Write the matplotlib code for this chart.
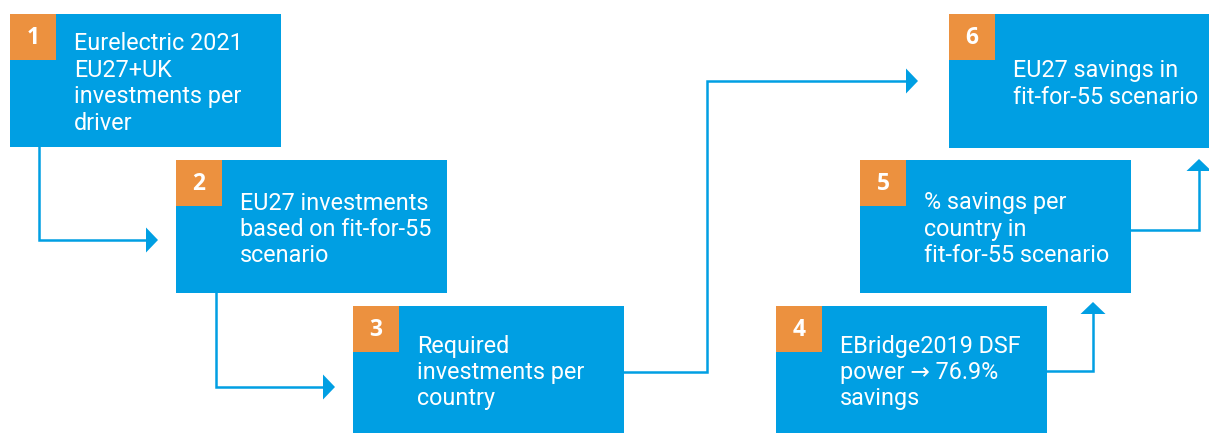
import matplotlib.pyplot as plt
from matplotlib.patches import Rectangle, Polygon

# step numbers and texts
steps = ["1", "2", "3", "4", "5", "6"]
texts = [
    "Eurelectric 2021\nEU27+UK\ninvestments per\ndriver",
    "EU27 investments\nbased on fit-for-55\nscenario",
    "Required\ninvestments per\ncountry",
    "EBridge2019 DSF\npower \u2192 76.9%\nsavings",
    "% savings per\ncountry in\nfit-for-55 scenario",
    "EU27 savings in\nfit-for-55 scenario",
]

# layout (pixel coords, y down): left, top, right, bottom
boxes = [
    (10, 14, 281, 147),
    (176, 160, 447, 293),
    (353, 306, 624, 433),
    (776, 306, 1047, 433),
    (860, 160, 1131, 293),
    (949, 14, 1209, 148),
]

# connector paths and head direction
paths = [
    ([(39, 147), (39, 240), (146, 240)], "right"),
    ([(216, 293), (216, 387), (323, 387)], "right"),
    ([(624, 372), (707, 372), (707, 81), (906, 81)], "right"),
    ([(1047, 371), (1093, 371), (1093, 314)], "up"),
    ([(1131, 230), (1199, 230), (1199, 171)], "up"),
]

blue = "#009FE3"
orange = "#EC913F"
W, H = 1209, 434
line_h = 26.5

fig = plt.figure(figsize=(W / 100, H / 100), dpi=100)
ax = fig.add_axes([0, 0, 1, 1])
ax.set_xlim(0, W)
ax.set_ylim(H, 0)
ax.axis("off")

for (l, t, r, b), num, txt in zip(boxes, steps, texts):
    ax.add_patch(Rectangle((l, t), r - l, b - t, color=blue, lw=0))
    ax.add_patch(Rectangle((l, t), 46, 46, color=orange, lw=0))
    ax.text(l + 23, t + 24, num, color="white", fontsize=16.5, fontweight="bold",
            ha="center", va="center", family="Open Sans")
    lines = txt.split("\n")
    y0 = (t + b) / 2 + 9.5 - (len(lines) - 1) * line_h / 2
    for i, s in enumerate(lines):
        ax.text(l + 64, y0 + i * line_h, s, color="white", fontsize=16.8,
                ha="left", va="baseline", family=["Roboto", "DejaVu Sans"])

hl, hw = 12, 25
for pts, d in paths:
    xs = [p[0] for p in pts]
    ys = [p[1] for p in pts]
    ax.plot(xs, ys, color=blue, lw=1.8, solid_joinstyle="miter")
    x, y = pts[-1]
    if d == "right":
        head = [(x, y - hw / 2), (x + hl, y), (x, y + hw / 2)]
    else:
        head = [(x - hw / 2, y), (x, y - hl), (x + hw / 2, y)]
    ax.add_patch(Polygon(head, closed=True, color=blue, lw=0))

fig.savefig("out.png", dpi=100)
